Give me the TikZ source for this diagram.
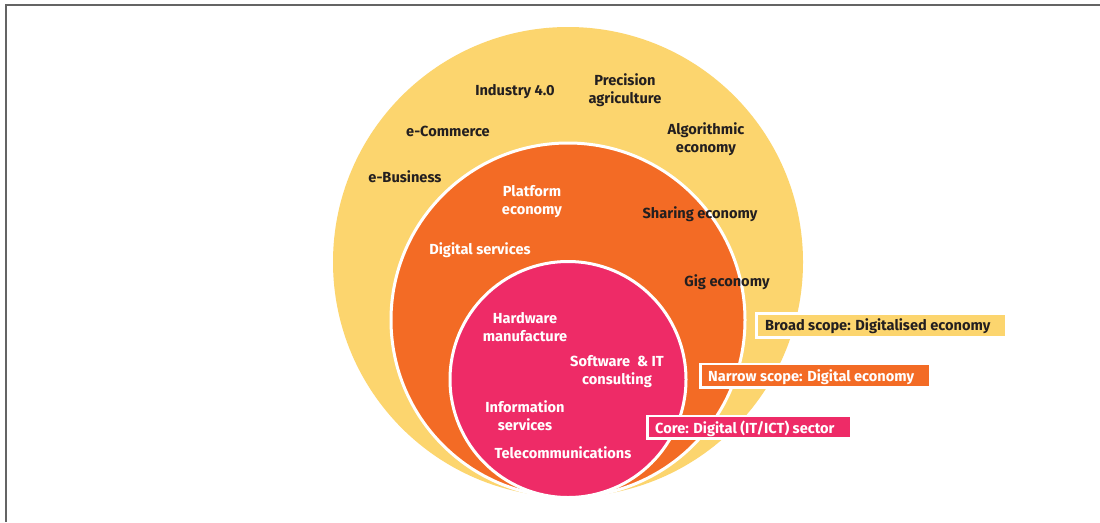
\documentclass[tikz,border=0pt]{standalone}
\usepackage{fontspec}
\setmainfont{Fira Sans}
\definecolor{cyellow}{RGB}{252,213,110}
\definecolor{corange}{RGB}{243,107,37}
\definecolor{cpink}{RGB}{238,43,103}
\definecolor{cdark}{RGB}{35,31,32}
\definecolor{cframe}{RGB}{100,100,100}
\begin{document}
\begin{tikzpicture}[x=1pt,y=-1pt,
  lbl/.style={font=\fontsize{14.6}{18}\selectfont\bfseries, align=center, inner sep=0pt},
  dk/.style={lbl, text=cdark},
  wt/.style={lbl, text=white},
  scopebox/.style={draw=white, line width=2.6pt},
  boxtext/.style={font=\fontsize{14.6}{16}\selectfont\bfseries, anchor=west, inner sep=0pt}]
\useasboundingbox (0,0) rectangle (1100,522);
\fill[white] (0,0) rectangle (1100,522);
\draw[cframe, line width=1.6pt] (5.8,522) -- (5.8,4.8) -- (1100,4.8);
% circles
\fill[cyellow] (568,262) circle[radius=235];
\path[fill=corange, draw=white, line width=3pt] (568,320) circle[radius=177];
\path[fill=cpink, draw=white, line width=3pt] (568,379.5) circle[radius=118];
% outer labels
\node[dk] (ind) at (515,91.5) {Industry 4.0};
\node[dk] (prec) at (625,90) {Precision\\agriculture};
\node[dk] (ecom) at (448,131.5) {e-Commerce};
\node[dk] (alg) at (706,139) {Algorithmic\\economy};
\node[dk] (ebus) at (405,176.5) {e-Business};
\node[dk] (share) at (700,214.5) {Sharing economy};
\node[dk] (gig) at (727,282.5) {Gig economy};
% middle labels
\node[wt] (plat) at (532,201.5) {Platform\\economy};
\node[wt] (dig) at (480,250.5) {Digital services};
% core labels
\node[wt] (hw) at (525,327.5) {Hardware\\manufacture};
\node[wt] (sw) at (617,371.5) {Software\ \ \&\ IT\\consulting};
\node[wt] (info) at (525,415.5) {Information\\services};
\node[wt] (tel) at (563,452.5) {Telecommunications};
% scope boxes
\path[fill=cyellow, scopebox] (756.5,313.5) rectangle (1006,337.5);
\node[boxtext, text=cdark] (broad) at (765,326.5) {Broad scope: Digitalised economy};
\path[fill=corange, scopebox] (700.5,364) rectangle (930,387.5);
\node[boxtext, text=white] (narrow) at (708,377) {Narrow scope: Digital economy};
\path[fill=cpink, scopebox] (647.5,416) rectangle (851,438.5);
\node[boxtext, text=white] (core) at (655,428.5) {Core: Digital (IT/ICT) sector};
\end{tikzpicture}
\end{document}
